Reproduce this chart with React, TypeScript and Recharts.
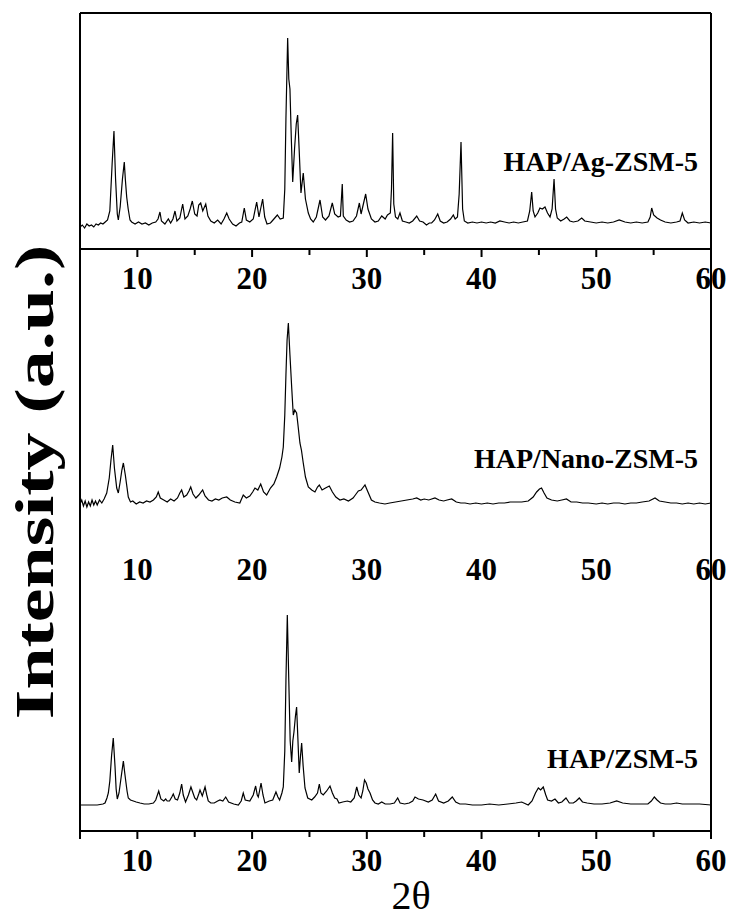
import React from "react";
import { LineChart, Line, XAxis, YAxis, ReferenceLine, ReferenceDot } from "recharts";

// 2θ (deg) vs intensity (a.u.)
const agPattern: [number, number][] = [
  [5.0, 22], [5.2, 24], [5.4, 21], [5.6, 25], [5.8, 23], [6.0, 24], [6.2, 22], [6.4, 25], [6.6, 24],
  [6.8, 26], [7.0, 25], [7.2, 27], [7.4, 29], [7.6, 38], [7.8, 85], [7.96, 118], [8.1, 70], [8.25, 35],
  [8.34, 29], [8.5, 42], [8.7, 70], [8.86, 87], [8.95, 70], [9.07, 52], [9.2, 40], [9.36, 29], [9.5, 27],
  [9.8, 25], [10.1, 27], [10.4, 25], [10.7, 26], [11.0, 24], [11.3, 26], [11.6, 27], [11.8, 30],
  [11.97, 37], [12.1, 28], [12.4, 25], [12.7, 30], [12.9, 26], [13.1, 30], [13.28, 38], [13.45, 28],
  [13.7, 31], [13.95, 45], [14.15, 30], [14.4, 33], [14.6, 40], [14.79, 48], [15.0, 35], [15.2, 33],
  [15.35, 44], [15.52, 46], [15.7, 38], [15.96, 45], [16.15, 33], [16.4, 28], [16.7, 26], [17.0, 29],
  [17.3, 25], [17.55, 30], [17.79, 36], [18.0, 30], [18.3, 25], [18.6, 23], [18.9, 26], [19.1, 27],
  [19.32, 41], [19.5, 29], [19.8, 27], [20.1, 30], [20.4, 47], [20.6, 32], [20.92, 50], [21.1, 32],
  [21.3, 25], [21.6, 26], [21.9, 30], [22.2, 34], [22.45, 30], [22.72, 31], [22.85, 60], [22.95, 130],
  [23.1, 211], [23.2, 170], [23.3, 160], [23.42, 110], [23.54, 67], [23.7, 100], [23.85, 125],
  [23.97, 134], [24.1, 100], [24.26, 56], [24.46, 76], [24.65, 50], [24.9, 36], [25.1, 30], [25.33, 27],
  [25.6, 32], [25.92, 49], [26.15, 32], [26.4, 29], [26.7, 33], [26.99, 46], [27.2, 35], [27.5, 32],
  [27.7, 33], [27.86, 65], [27.95, 33], [28.2, 29], [28.5, 27], [28.8, 28], [29.1, 33], [29.35, 46],
  [29.5, 35], [29.7, 45], [29.9, 55], [30.1, 40], [30.4, 30], [30.71, 27], [31.0, 28], [31.3, 33],
  [31.6, 30], [31.8, 34], [32.05, 36], [32.15, 60], [32.25, 116], [32.35, 45], [32.5, 32], [32.7, 30],
  [32.89, 36], [33.1, 28], [33.4, 27], [33.7, 26], [34.0, 28], [34.35, 33], [34.6, 28], [34.9, 27],
  [35.2, 24], [35.45, 26], [35.65, 26], [35.9, 29], [36.18, 35], [36.4, 28], [36.7, 26], [37.0, 27],
  [37.3, 30], [37.54, 34], [37.7, 30], [37.9, 32], [38.05, 55], [38.21, 107], [38.35, 40], [38.5, 28],
  [38.8, 26], [39.2, 27], [39.6, 26], [40.0, 27], [40.4, 26], [40.8, 27], [41.2, 26], [41.6, 28],
  [42.0, 27], [42.4, 26], [42.8, 27], [43.2, 26], [43.6, 27], [44.0, 28], [44.2, 38], [44.37, 57],
  [44.5, 38], [44.66, 32], [44.9, 36], [45.09, 41], [45.3, 40], [45.53, 42], [45.75, 36], [45.97, 32],
  [46.15, 40], [46.32, 70], [46.45, 40], [46.6, 31], [46.9, 28], [47.2, 30], [47.42, 32], [47.7, 28],
  [48.0, 27], [48.4, 28], [48.73, 31], [49.0, 28], [49.5, 27], [50.0, 26], [50.5, 27], [51.0, 26],
  [51.5, 27], [52.0, 29], [52.5, 27], [53.0, 26], [53.5, 27], [54.0, 26], [54.5, 27], [54.7, 32],
  [54.83, 41], [55.0, 34], [55.3, 31], [55.6, 29], [56.0, 27], [56.5, 26], [57.0, 27], [57.3, 28],
  [57.5, 36], [57.7, 29], [58.0, 26], [58.5, 27], [59.0, 26], [59.5, 27], [60.0, 26],
];

const nanoPattern: [number, number][] = [
  [5.0, 36], [5.15, 40], [5.3, 34], [5.45, 39], [5.6, 33], [5.75, 38], [5.9, 34], [6.05, 40], [6.2, 35],
  [6.35, 39], [6.5, 35], [6.7, 40], [6.9, 37], [7.1, 41], [7.33, 47], [7.55, 62], [7.7, 80], [7.85, 95],
  [8.0, 72], [8.2, 52], [8.34, 47], [8.5, 58], [8.65, 70], [8.78, 77], [8.95, 65], [9.21, 43], [9.4, 38],
  [9.6, 39], [9.9, 36], [10.2, 38], [10.5, 37], [10.8, 39], [11.1, 38], [11.4, 40], [11.65, 43],
  [11.82, 48], [12.0, 42], [12.3, 40], [12.6, 38], [12.9, 41], [13.2, 39], [13.5, 42], [13.7, 47],
  [13.86, 50], [14.05, 43], [14.3, 45], [14.5, 49], [14.65, 53], [14.85, 46], [15.1, 42], [15.35, 45],
  [15.69, 50], [15.9, 44], [16.2, 40], [16.5, 39], [16.8, 41], [17.1, 40], [17.4, 42], [17.79, 43],
  [18.1, 40], [18.5, 38], [18.93, 37], [19.23, 45], [19.5, 42], [19.8, 44], [20.05, 48], [20.25, 52],
  [20.5, 50], [20.75, 56], [21.0, 48], [21.27, 45], [21.6, 52], [21.9, 56], [22.14, 63], [22.4, 72],
  [22.6, 83], [22.72, 93], [22.85, 125], [22.95, 165], [23.05, 200], [23.16, 217], [23.3, 185],
  [23.45, 153], [23.59, 125], [23.72, 130], [23.88, 127], [24.0, 115], [24.17, 97], [24.3, 90],
  [24.46, 77], [24.65, 63], [24.9, 53], [25.2, 50], [25.48, 48], [25.7, 53], [25.86, 55], [26.1, 50],
  [26.4, 52], [26.73, 54], [27.0, 48], [27.3, 43], [27.66, 40], [28.0, 41], [28.4, 39], [28.8, 42],
  [29.0, 45], [29.26, 49], [29.5, 50], [29.84, 55], [30.1, 48], [30.4, 40], [30.71, 38], [31.1, 37],
  [31.58, 36], [32.0, 37], [32.5, 38], [33.0, 39], [33.5, 40], [34.0, 41], [34.35, 42], [34.7, 40],
  [35.0, 41], [35.4, 40], [35.94, 42], [36.3, 40], [36.7, 39], [37.0, 40], [37.4, 41], [37.8, 38],
  [38.2, 37], [38.56, 37], [39.0, 36], [39.5, 37], [40.0, 36], [40.5, 37], [41.0, 36], [41.5, 37],
  [42.0, 37], [42.5, 38], [43.0, 38], [43.5, 38], [44.07, 39], [44.5, 43], [44.8, 48], [45.05, 51],
  [45.23, 52], [45.45, 47], [45.7, 42], [46.1, 40], [46.6, 39], [47.0, 40], [47.4, 41], [47.8, 38],
  [48.3, 38], [48.8, 37], [49.3, 37], [50.0, 36], [50.5, 37], [51.0, 36], [51.5, 37], [52.0, 37],
  [52.5, 36], [53.0, 37], [53.5, 37], [54.0, 38], [54.6, 39], [55.12, 42], [55.5, 39], [56.0, 38],
  [56.5, 37], [57.0, 37], [57.5, 36], [58.0, 37], [58.5, 36], [59.0, 37], [59.5, 36], [60.0, 37],
];

const zsmPattern: [number, number][] = [
  [5.0, 26], [5.5, 26], [6.0, 26], [6.5, 26], [7.0, 27], [7.18, 28], [7.35, 33], [7.47, 38], [7.6, 50],
  [7.75, 75], [7.9, 93], [8.05, 65], [8.15, 42], [8.25, 32], [8.4, 38], [8.6, 55], [8.78, 70], [8.9, 58],
  [9.01, 48], [9.1, 40], [9.21, 33], [9.4, 31], [9.65, 30], [9.9, 29], [10.23, 28], [10.6, 27],
  [11.0, 27], [11.4, 28], [11.6, 31], [11.86, 40], [12.05, 32], [12.3, 30], [12.47, 32], [12.6, 30],
  [12.8, 30], [13.0, 34], [13.13, 37], [13.3, 32], [13.5, 31], [13.7, 38], [13.86, 47], [14.0, 36],
  [14.2, 29], [14.45, 36], [14.67, 44], [14.85, 38], [15.0, 33], [15.17, 31], [15.35, 37], [15.46, 41],
  [15.66, 35], [15.9, 44], [16.05, 36], [16.18, 30], [16.4, 28], [16.7, 28], [17.0, 30], [17.2, 31],
  [17.45, 30], [17.7, 34], [17.95, 29], [18.4, 27], [18.8, 26], [19.05, 30], [19.23, 38], [19.4, 31],
  [19.8, 30], [20.1, 36], [20.31, 45], [20.45, 36], [20.54, 34], [20.65, 40], [20.78, 48], [20.95, 36],
  [21.12, 28], [21.5, 30], [21.8, 31], [22.08, 39], [22.25, 34], [22.4, 31], [22.6, 38], [22.72, 44],
  [22.85, 80], [22.95, 150], [23.07, 216], [23.2, 150], [23.32, 90], [23.45, 69], [23.55, 90],
  [23.65, 99], [23.78, 115], [23.88, 124], [24.0, 90], [24.11, 58], [24.22, 75], [24.32, 88],
  [24.45, 65], [24.61, 43], [24.85, 33], [25.2, 31], [25.45, 34], [25.7, 38], [25.86, 47], [26.0, 38],
  [26.2, 36], [26.5, 40], [26.79, 45], [27.0, 38], [27.2, 33], [27.4, 32], [27.57, 28], [27.9, 29],
  [28.3, 30], [28.6, 29], [28.9, 33], [29.12, 44], [29.3, 36], [29.5, 33], [29.65, 40], [29.8, 51],
  [29.95, 48], [30.1, 42], [30.28, 38], [30.5, 31], [30.71, 28], [31.0, 27], [31.3, 29], [31.6, 27],
  [32.03, 27], [32.4, 28], [32.69, 33], [32.9, 28], [33.3, 27], [33.7, 28], [34.0, 30], [34.2, 34],
  [34.5, 32], [34.9, 31], [35.36, 29], [35.7, 31], [36.0, 37], [36.25, 30], [36.7, 28], [37.1, 30],
  [37.45, 34], [37.75, 29], [38.1, 27], [38.6, 27], [39.2, 26], [40.0, 26], [40.7, 27], [41.5, 26],
  [42.3, 27], [43.0, 28], [43.5, 29], [44.07, 26], [44.4, 30], [44.7, 38], [44.95, 43], [45.15, 41],
  [45.38, 44], [45.6, 36], [45.76, 31], [46.1, 30], [46.4, 32], [46.7, 28], [47.0, 29], [47.36, 33],
  [47.65, 28], [48.0, 28], [48.25, 30], [48.52, 33], [48.8, 29], [49.2, 28], [49.8, 27], [50.5, 27],
  [51.2, 28], [51.78, 30], [52.3, 28], [53.0, 27], [53.8, 27], [54.5, 27], [54.8, 30], [55.06, 34],
  [55.3, 31], [55.6, 28], [56.0, 27], [56.5, 27], [57.0, 28], [57.5, 27], [58.2, 27], [59.0, 27],
  [60.0, 26],
];

const xTicks = [5, 10, 15, 20, 25, 30, 35, 40, 45, 50, 55, 60];
const xLabels = [10, 20, 30, 40, 50, 60];
const sampleNames = ["HAP/Ag-ZSM-5", "HAP/Nano-ZSM-5", "HAP/ZSM-5"];

const FONT = '"Liberation Serif", "Times New Roman", serif';

// one chart, plot area 818px tall; the frame axis runs 1 unit per px from the bottom axis up
const PLOT_H = 818;
const TOP_AXIS = 582; // x axis of the upper panel
const MID_LABEL_BASE = 251; // baseline of the middle panel's 2θ labels
const TOP_LABEL_BASE = 542; // baseline of the upper panel's 2θ labels
const Y_STEP = 236 / 18;
const band = Array.from({ length: 19 }, (_, k) => k * Y_STEP);
const frameTicks = [...band, ...band.map((v) => v + 291), ...band.map((v) => v + TOP_AXIS)];

const toRows = (p: [number, number][]) => p.map(([t, i]) => ({ t, i }));
const tickLen = (t: number) => (t % 10 === 0 || t === 5 ? 8 : 6);

function TickText({ x, y, v }: { x: number; y: number; v: number }) {
  return (
    <text x={x} y={y} textAnchor="middle" fontFamily={FONT} fontWeight="bold" fontSize={31} fill="#000">
      {v}
    </text>
  );
}

function XTick(props: any) {
  const { x, y, payload } = props;
  const v = payload.value;
  const axisY = y - 18;
  return (
    <g>
      <line x1={x} x2={x} y1={axisY} y2={axisY + tickLen(v)} stroke="#000" strokeWidth={2} />
      {v % 10 === 0 && <TickText x={x} y={axisY + 40} v={v} />}
    </g>
  );
}

export default function App() {
  const frame = { stroke: "#000", strokeWidth: 2 };
  const textStyle = { fontFamily: FONT, fontWeight: "bold" as const, fill: "#000" };
  const sideAxis = (id: string, orientation: "left" | "right") => (
    <YAxis
      yAxisId={id}
      orientation={orientation}
      mirror
      domain={[0, PLOT_H]}
      ticks={frameTicks}
      interval={0}
      allowDataOverflow
      tick={false}
      tickSize={3}
      axisLine={frame}
      tickLine={{ stroke: "#000", strokeWidth: 1.5 }}
    />
  );
  return (
    <div style={{ position: "absolute", left: 0, top: 0, width: 730, height: 917, background: "#fff" }}>
      <LineChart width={730} height={917} margin={{ top: 13, left: 80, right: 19, bottom: 35 }}>
        <XAxis
          dataKey="t"
          type="number"
          domain={[5, 60]}
          ticks={xTicks}
          interval={0}
          height={51}
          allowDataOverflow
          axisLine={frame}
          tickLine={false}
          tickSize={8}
          tickMargin={10}
          tick={(p: any) => <XTick {...p} />}
        />
        {sideAxis("frame", "left")}
        {sideAxis("frameR", "right")}
        {/* each pattern gets its own band of the plot */}
        <YAxis yAxisId="ag" hide domain={[-TOP_AXIS, PLOT_H - TOP_AXIS]} allowDataOverflow />
        <YAxis yAxisId="nano" hide domain={[-291, PLOT_H - 291]} allowDataOverflow />
        <YAxis yAxisId="zsm" hide domain={[0, PLOT_H]} allowDataOverflow />

        <ReferenceLine yAxisId="frame" y={PLOT_H} {...frame} />
        <ReferenceLine yAxisId="frame" y={TOP_AXIS} {...frame} />
        {xTicks.map((t) => (
          <ReferenceLine
            key={`tk${t}`}
            yAxisId="frame"
            segment={[{ x: t, y: TOP_AXIS }, { x: t, y: TOP_AXIS - tickLen(t) }]}
            {...frame}
          />
        ))}
        {xLabels.map((t) => (
          <ReferenceDot
            key={`l1${t}`}
            yAxisId="frame"
            x={t}
            y={TOP_LABEL_BASE}
            r={0}
            shape={(p: any) => <TickText x={p.cx} y={p.cy} v={t} />}
          />
        ))}
        {xLabels.map((t) => (
          <ReferenceDot
            key={`l2${t}`}
            yAxisId="frame"
            x={t}
            y={MID_LABEL_BASE}
            r={0}
            shape={(p: any) => <TickText x={p.cx} y={p.cy} v={t} />}
          />
        ))}

        <Line yAxisId="ag" data={toRows(agPattern)} dataKey="i" type="linear" stroke="#000" strokeWidth={1.2} dot={false} isAnimationActive={false} />
        <Line yAxisId="nano" data={toRows(nanoPattern)} dataKey="i" type="linear" stroke="#000" strokeWidth={1.2} dot={false} isAnimationActive={false} />
        <Line yAxisId="zsm" data={toRows(zsmPattern)} dataKey="i" type="linear" stroke="#000" strokeWidth={1.2} dot={false} isAnimationActive={false} />
      </LineChart>
      <svg width={730} height={917} style={{ position: "absolute", left: 0, top: 0, pointerEvents: "none" }}>
        <text x={698} y={171} textAnchor="end" fontSize={28} {...textStyle}>{sampleNames[0]}</text>
        <text x={698} y={468} textAnchor="end" fontSize={28} {...textStyle}>{sampleNames[1]}</text>
        <text x={698} y={768} textAnchor="end" fontSize={28} {...textStyle}>{sampleNames[2]}</text>
        <text transform="translate(53,482) rotate(-90) scale(1.38,1)" textAnchor="middle" fontSize={55} {...textStyle}>
          Intensity (a.u.)
        </text>
        <text x={411} y={909} textAnchor="middle" fontSize={40} fontFamily={FONT} fill="#000">
          2θ
        </text>
      </svg>
    </div>
  );
}
